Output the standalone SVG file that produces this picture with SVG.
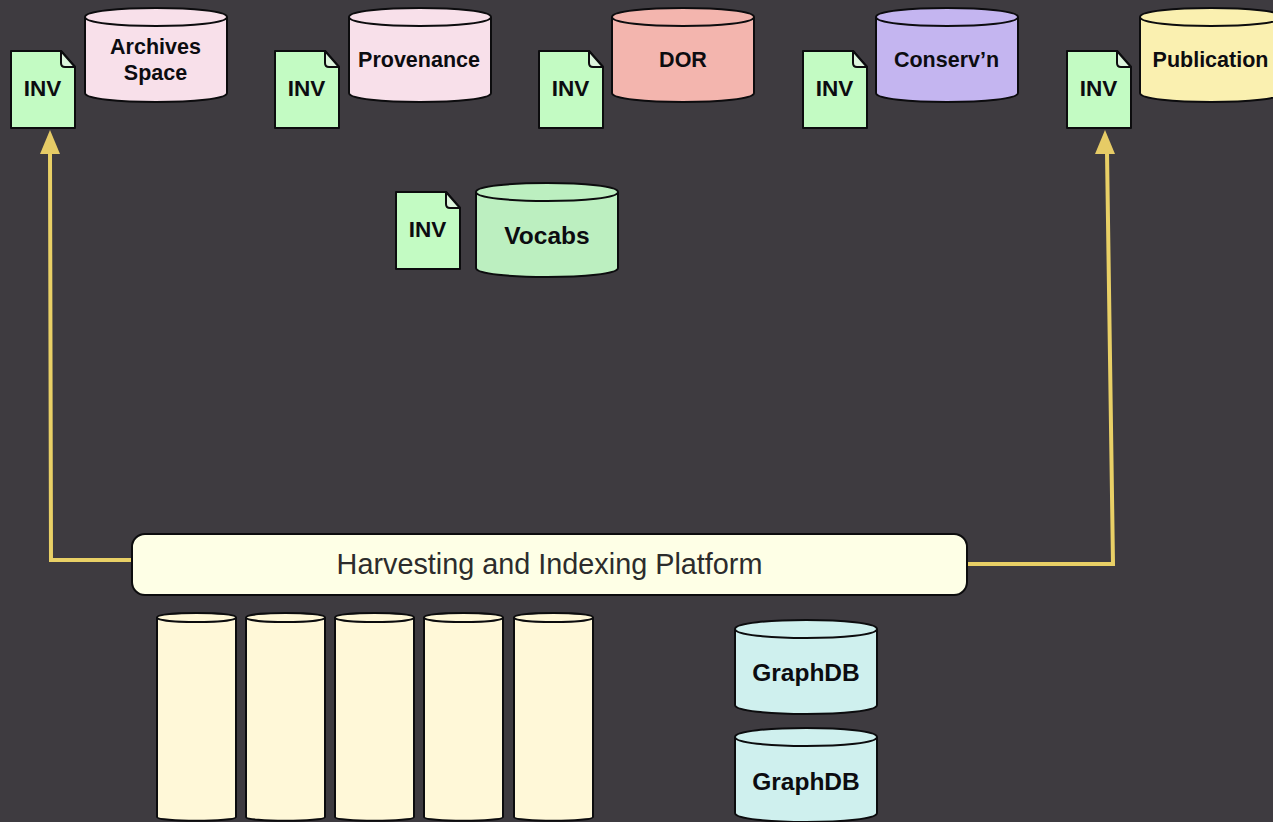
<svg xmlns="http://www.w3.org/2000/svg" width="1273" height="822" viewBox="0 0 1273 822">
<style>
.s{stroke:#0c0c0e;stroke-width:2;stroke-linejoin:round}
.doc{fill:#C3FBC3}
.fold{fill:#DDF5DD}
text{font-family:"Liberation Sans",Arial,sans-serif;fill:#0c0c10;text-anchor:middle}
.b{font-weight:700;font-size:21.500px}
.i{font-weight:700;font-size:22.500px}
.l{font-weight:700;font-size:24.500px}
.h{font-size:28.800px;fill:#2c2c2c}
.c{fill:none;stroke:#E9D066;stroke-width:4;stroke-linejoin:miter}
.ah{fill:#E6CB66}
</style>
<defs>
<g id="big">
<path class="s" d="M0 8C0 -4 142 -4 142 8V84C142 96 0 96 0 84Z"/>
<path class="s" fill="none" d="M0 8C0 20 142 20 142 8"/>
</g>
<g id="tall">
<path class="s" d="M0 4.500C0 -1.500 79 -1.500 79 4.500V204C79 209 0 209 0 204Z"/>
<path class="s" fill="none" d="M0 4.500C0 10.500 79 10.500 79 4.500"/>
</g>
<g id="inv">
<path class="s doc" d="M0 0H50L64 16V77H0Z"/>
<path class="s fold" d="M50 0L64 16H54Q50 16 50 12Z"/>
<text class="i" x="31.500" y="45">INV</text>
</g>
</defs>
<rect width="1273" height="822" fill="#3E3B40"/>
<g id="connectors">
<path class="c" d="M132 560H51L50 152"/>
<path class="ah" d="M50 130L60 154H40Z"/>
<path class="c" d="M967 564H1113L1107 152"/>
<path class="ah" d="M1105 130L1115 154H1095Z"/>
</g>
<g id="inv-archives" transform="translate(11 51)"><use href="#inv"/></g>
<g id="archives" transform="translate(85 9)" fill="#F8E0EA"><use href="#big"/><text class="b" x="70.500" y="45">Archives</text><text class="b" x="70.500" y="71">Space</text></g>
<g id="inv-provenance" transform="translate(275 51)"><use href="#inv"/></g>
<g id="provenance" transform="translate(349 9)" fill="#F8E0EA"><use href="#big"/><text class="b" x="70" y="58">Provenance</text></g>
<g id="inv-dor" transform="translate(539 51)"><use href="#inv"/></g>
<g id="dor" transform="translate(612 9)" fill="#F3B5AE"><use href="#big"/><text class="b" x="71" y="58">DOR</text></g>
<g id="inv-conserv" transform="translate(803 51)"><use href="#inv"/></g>
<g id="conserv" transform="translate(876 9)" fill="#C4B5F0"><use href="#big"/><text class="b" x="70.500" y="58">Conserv’n</text></g>
<g id="inv-publication" transform="translate(1067 51)"><use href="#inv"/></g>
<g id="publication" transform="translate(1140 9)" fill="#FAF0B0"><use href="#big"/><text class="b" x="70.500" y="58">Publication</text></g>
<g id="inv-vocabs" transform="translate(396 192)"><use href="#inv"/></g>
<g id="vocabs" transform="translate(476 184)" fill="#BCEFC0"><use href="#big"/><text class="l" x="71" y="60">Vocabs</text></g>
<g id="platform"><rect class="s" x="132" y="534" width="835" height="61" rx="13" fill="#FEFFE6"/><text class="h" x="549.500" y="574">Harvesting and Indexing Platform</text></g>
<g id="store-1" transform="translate(157 613)" fill="#FFF8D8"><use href="#tall"/></g>
<g id="store-2" transform="translate(246 613)" fill="#FFF8D8"><use href="#tall"/></g>
<g id="store-3" transform="translate(335 613)" fill="#FFF8D8"><use href="#tall"/></g>
<g id="store-4" transform="translate(424 613)" fill="#FFF8D8"><use href="#tall"/></g>
<g id="store-5" transform="translate(514 613)" fill="#FFF8D8"><use href="#tall"/></g>
<g id="graphdb-1" transform="translate(735 621)" fill="#CFF0EE"><use href="#big"/><text class="l" x="71" y="60">GraphDB</text></g>
<g id="graphdb-2" transform="translate(735 729)" fill="#CFF0EE"><use href="#big"/><text class="l" x="71" y="61">GraphDB</text></g>
</svg>
